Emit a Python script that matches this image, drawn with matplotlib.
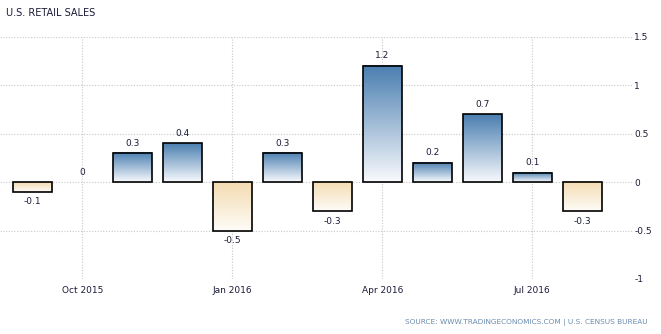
import matplotlib.pyplot as plt
import matplotlib.colors as mcolors
import numpy as np

# monthly change, Sep 2015 .. Aug 2016
months = ['Sep 2015', 'Oct 2015', 'Nov 2015', 'Dec 2015', 'Jan 2016', 'Feb 2016',
          'Mar 2016', 'Apr 2016', 'May 2016', 'Jun 2016', 'Jul 2016', 'Aug 2016']
values = [-0.1, 0.0, 0.3, 0.4, -0.5, 0.3, -0.3, 1.2, 0.2, 0.7, 0.1, -0.3]
tick_months = ['Oct 2015', 'Jan 2016', 'Apr 2016', 'Jul 2016']
y_ticks = [-1, -0.5, 0, 0.5, 1, 1.5]
y_labels = ['-1', '-0.5', '0', '0.5', '1', '1.5']

text_col = '#1b1b3a'
pos_cmap = mcolors.LinearSegmentedColormap.from_list('pos', ['#f8fafd', '#4a7eb0'])
neg_cmap = mcolors.LinearSegmentedColormap.from_list('neg', ['#fefcf8', '#f4dcb1'])

fig = plt.figure(figsize=(6.61, 3.34), dpi=100)
ax = fig.add_axes([0.0, 55 / 334, 633 / 661, 242 / 334])

x = np.arange(len(values))
width = 0.78
grad = np.linspace(0, 1, 256).reshape(-1, 1)

for xi, v in zip(x, values):
    if v != 0:
        # gradient fill inside each bar, then the black outline on top
        cmap = pos_cmap if v > 0 else neg_cmap
        ax.imshow(grad, cmap=cmap, origin='lower', aspect='auto',
                  extent=[xi - width / 2, xi + width / 2, min(0, v), max(0, v)], zorder=2)
        ax.bar(xi, v, width=width, facecolor='none', edgecolor='black',
               linewidth=1.2, zorder=3)
    if v >= 0:
        ax.annotate(f'{v:g}', (xi, v), xytext=(0, 4), textcoords='offset points',
                    ha='center', va='bottom', fontsize=6.5, color=text_col)
    else:
        ax.annotate(f'{v:g}', (xi, v), xytext=(0, -4), textcoords='offset points',
                    ha='center', va='top', fontsize=6.5, color=text_col)

ax.set_xlim(-0.65, 12.02)
ax.set_ylim(-1, 1.5)

ax.set_xticks([months.index(m) for m in tick_months])
ax.set_xticklabels(tick_months)
ax.set_yticks(y_ticks)
ax.set_yticklabels(y_labels)
ax.yaxis.tick_right()
ax.tick_params(axis='both', length=0, labelsize=6.5, labelcolor=text_col)
ax.tick_params(axis='x', pad=5)
ax.tick_params(axis='y', pad=1)

ax.grid(True, color='#c8c8c8', linestyle=(0, (1, 1.5)), linewidth=0.8, zorder=0)
ax.set_axisbelow(True)
for s in ax.spines.values():
    s.set_visible(False)

fig.text(6 / 661, 1 - 13 / 334, 'U.S. RETAIL SALES', fontsize=7, color=text_col,
         va='center', ha='left')
fig.text(648 / 661, 1 - 322 / 334, 'SOURCE: WWW.TRADINGECONOMICS.COM | U.S. CENSUS BUREAU',
         fontsize=5.3, color='#6a8cae', va='center', ha='right')

fig.savefig('out.png', dpi=100)
